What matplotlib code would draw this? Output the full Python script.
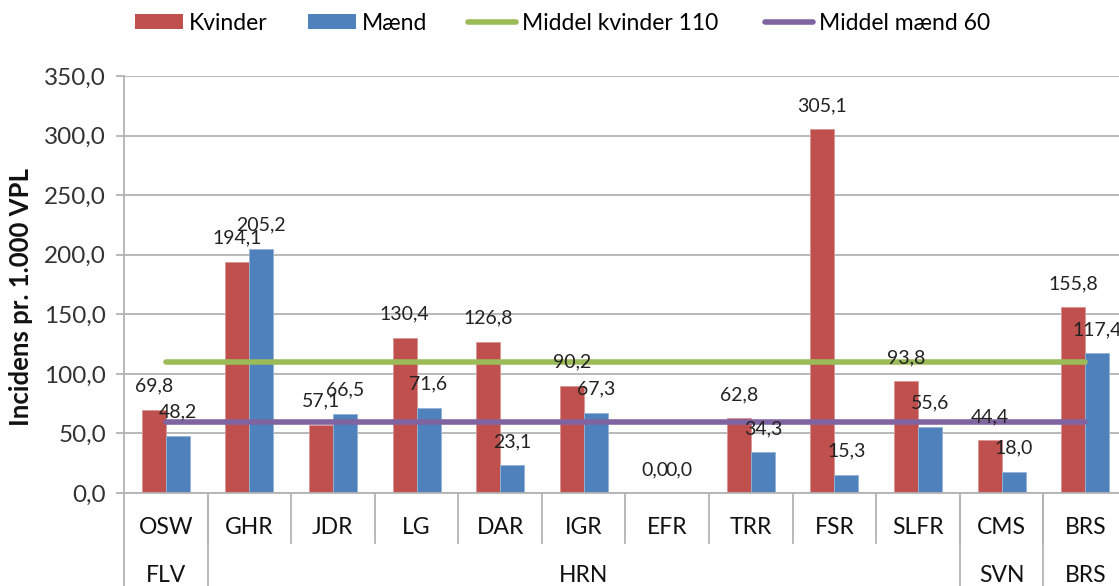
import matplotlib
matplotlib.use('Agg')
import matplotlib.pyplot as plt
import numpy as np
from matplotlib.patches import Patch
from matplotlib.lines import Line2D

plt.rcParams['font.family'] = ['Lato', 'DejaVu Sans']

# data
categories = ['OSW', 'GHR', 'JDR', 'LG', 'DAR', 'IGR', 'EFR', 'TRR', 'FSR', 'SLFR', 'CMS', 'BRS']
groups = ['FLV', 'HRN', 'SVN', 'BRS']
group_sizes = [1, 9, 1, 1]
kvinder = [69.8, 194.1, 57.1, 130.4, 126.8, 90.2, 0.0, 62.8, 305.1, 93.8, 44.4, 155.8]
maend = [48.2, 205.2, 66.5, 71.6, 23.1, 67.3, 0.0, 34.3, 15.3, 55.6, 18.0, 117.4]
middel_kvinder = 110
middel_maend = 60
yticks = [0, 50, 100, 150, 200, 250, 300, 350]

RED, BLUE, GREEN, PURPLE = '#C0504D', '#4F81BD', '#9BBB59', '#8064A2'
GRID = '#B3B3B3'
W, H = 1119, 586


def fmt(v):
    return f'{v:.1f}'.replace('.', ',')


fig = plt.figure(figsize=(W / 100, H / 100), dpi=100)
ax = fig.add_axes([124 / W, 93 / H, 1003 / W, 417 / H])

x = np.arange(len(categories))
bw = 0.287
ax.bar(x - bw / 2, kvinder, bw, color=RED, edgecolor='#D99694', linewidth=0.6, zorder=2)
ax.bar(x + bw / 2, maend, bw, color=BLUE, edgecolor='#95B3D7', linewidth=0.6, zorder=2)

ax.plot(x, [middel_kvinder] * len(x), color=GREEN, lw=4, solid_capstyle='round', zorder=3)
ax.plot(x, [middel_maend] * len(x), color=PURPLE, lw=4, solid_capstyle='round', zorder=3)

for xi, v in zip(x, kvinder):
    ax.annotate(fmt(v), (xi - bw / 2, v), xytext=(0, 17), textcoords='offset points',
                ha='center', va='center', fontsize=14, color='#222222', zorder=4)
for xi, v in zip(x, maend):
    ax.annotate(fmt(v), (xi + bw / 2, v), xytext=(0, 17), textcoords='offset points',
                ha='center', va='center', fontsize=14, color='#222222', zorder=4)

ax.set_xlim(-0.5, len(categories) - 0.5)
ax.set_ylim(0, 350)
ax.set_yticks(yticks)
ax.set_yticklabels([fmt(t) for t in yticks], fontsize=17.5, color='#333333')
ax.yaxis.grid(True, color=GRID, lw=1.3, zorder=0)
ax.set_axisbelow(True)
ax.tick_params(axis='y', length=6, color=GRID, width=1.3, pad=7)
ax.set_xticks([])
for s in ['top', 'right']:
    ax.spines[s].set_visible(False)
for s in ['left', 'bottom']:
    ax.spines[s].set_color(GRID)
    ax.spines[s].set_linewidth(1.3)
fig.text(21 / W, 1 - 297 / H, 'Incidens pr. 1.000 VPL', rotation=90, ha='center', va='center',
         fontsize=18.5, fontweight='bold', color='#111111')

# two level category axis
trans = ax.get_xaxis_transform()
for i, c in enumerate(categories):
    ax.text(i, -0.082, c, transform=trans, ha='center', va='center', fontsize=16.5, color='#111111')
for b in np.arange(0.5, len(categories) - 1, 1.0):
    ax.plot([b, b], [0, -0.12], transform=trans, color=GRID, lw=1.3, clip_on=False)
start = 0
edges = [-0.5]
for g, n in zip(groups, group_sizes):
    mid = start + (n - 1) / 2
    ax.text(mid, -0.199, g, transform=trans, ha='center', va='center', fontsize=16.5, color='#111111')
    start += n
    edges.append(start - 0.5)
for e in edges[:-1]:
    ax.plot([e, e], [0, -0.3], transform=trans, color=GRID, lw=1.3, clip_on=False)

# legend entries placed one by one
entries = [
    (Patch(facecolor=RED), 'Kvinder', 135),
    (Patch(facecolor=BLUE), 'Mænd', 308),
    (Line2D([], [], color=GREEN, lw=4, solid_capstyle='round'), 'Middel kvinder 110', 468),
    (Line2D([], [], color=PURPLE, lw=4, solid_capstyle='round'), 'Middel mænd 60', 765),
]
for h, lab, xp in entries:
    fig.legend([h], [lab], loc='center left', bbox_to_anchor=(xp / W, 1 - 23 / H),
               frameon=False, borderpad=0, borderaxespad=0, handlelength=2.1,
               handleheight=0.62, handletextpad=0.25, fontsize=16.5)

fig.savefig('out.png', dpi=100)
